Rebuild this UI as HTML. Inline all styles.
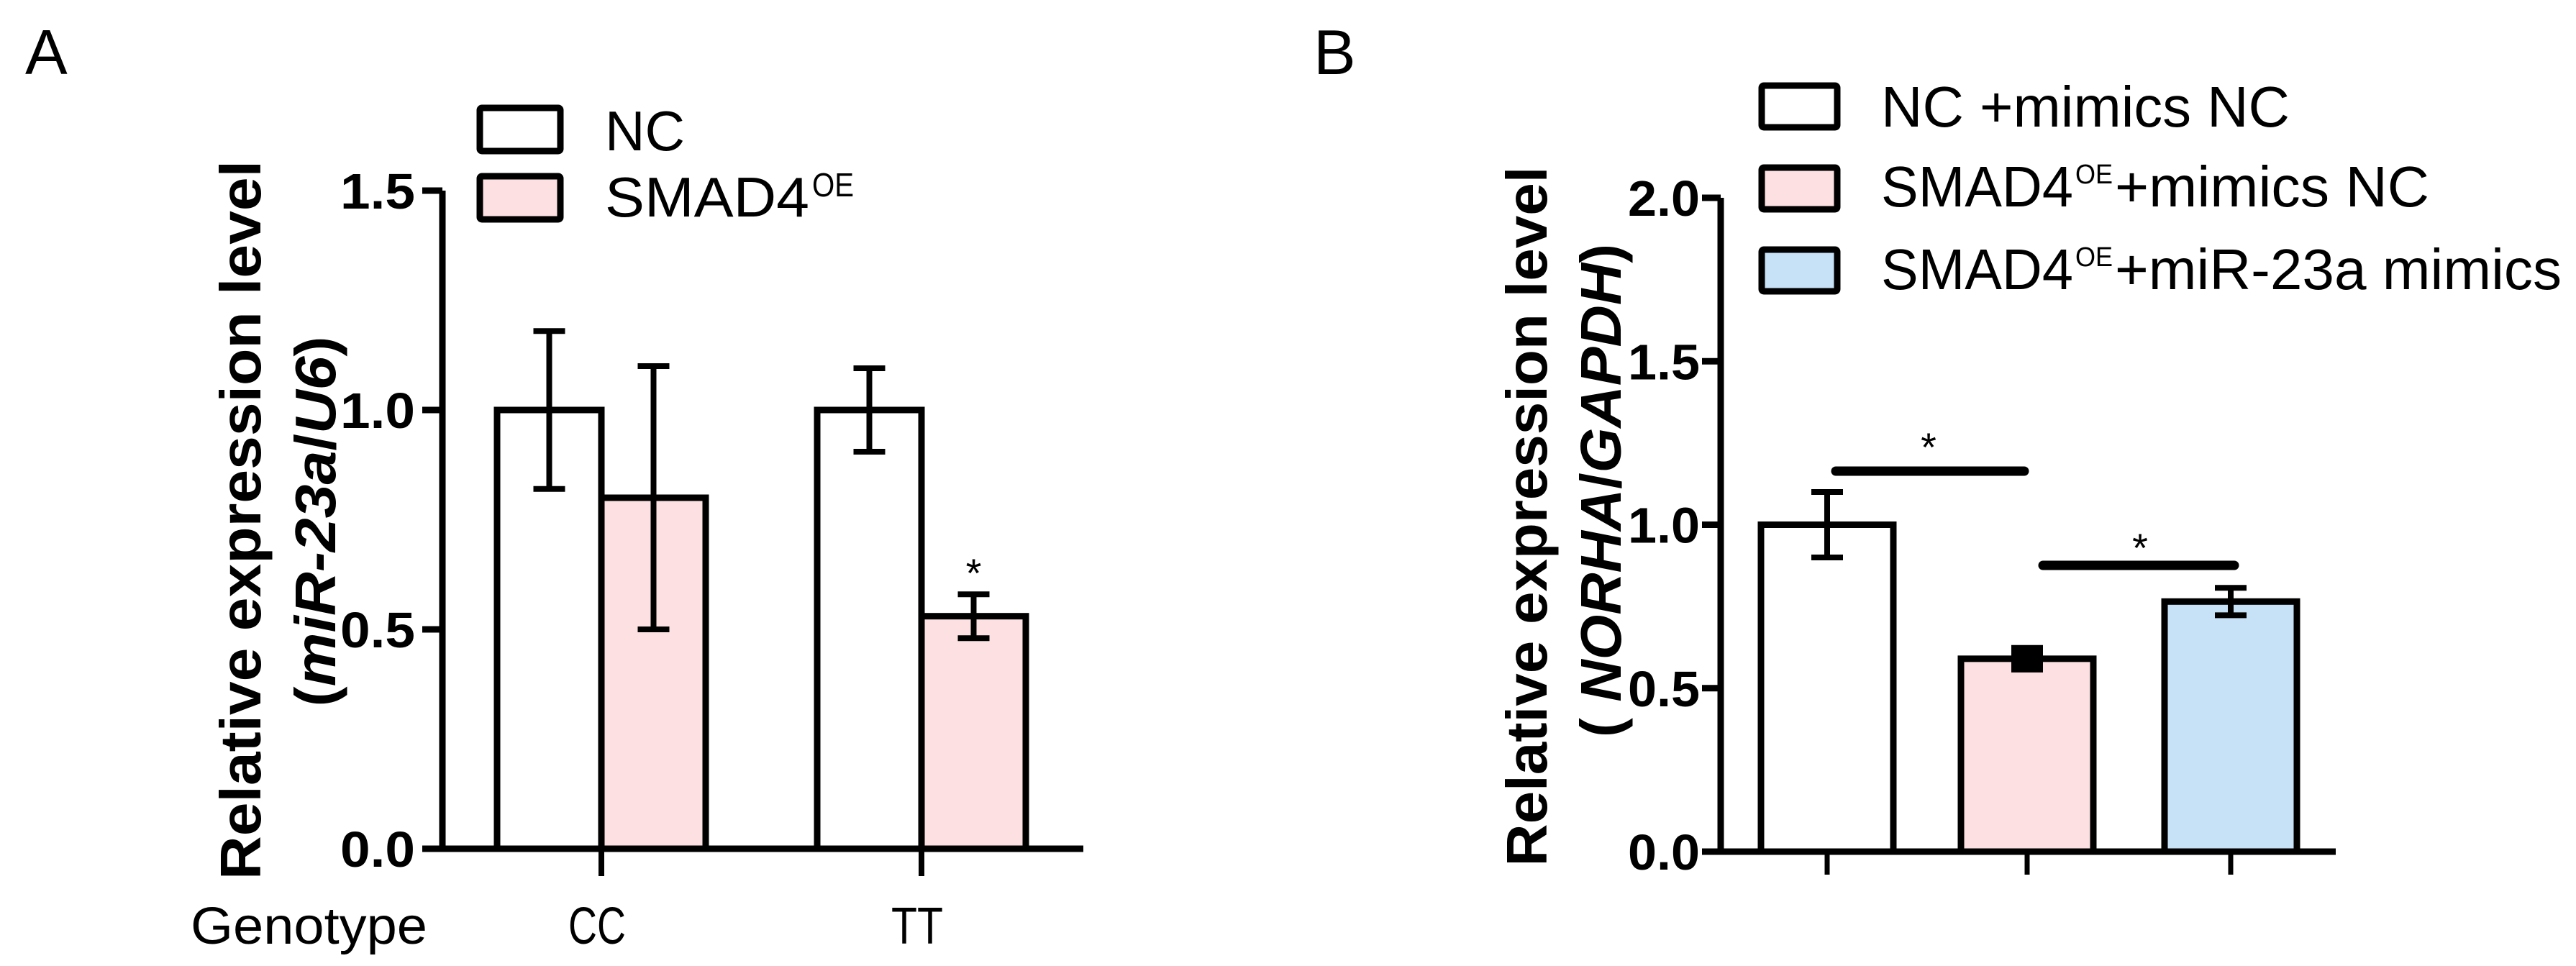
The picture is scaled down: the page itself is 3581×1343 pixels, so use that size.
<!DOCTYPE html>
<html><head><meta charset="utf-8"><style>
html,body{margin:0;padding:0;background:#fff;}
svg text{font-family:"Liberation Sans",sans-serif;}
</style></head><body>
<svg id="fig" width="3581" height="1338" viewBox="0 0 3581 1338" xmlns="http://www.w3.org/2000/svg">
<rect width="3581" height="1338" fill="#fff"/>
<text x="35" y="103" font-size="88">A</text>
<text x="1826" y="103" font-size="88">B</text>
<g id="A"></g>
<g id="B"></g>
</svg>
<script>
const NS="http://www.w3.org/2000/svg";
// Panel A data
const catsA=["CC","TT"];
const ncA=[1.0,1.0];
const ncErrA=[0.18,0.095];
const smadA=[0.80,0.53];
const smadErrA=[0.30,0.05];
const ticksA=[0,0.5,1.0,1.5];
const tickLabelsA=["0.0","0.5","1.0","1.5"];
// Panel B data
const groupsB=["NC +mimics NC","SMAD4OE+mimics NC","SMAD4OE+miR-23a mimics"];
const valB=[1.0,0.59,0.765];
const errB=[0.10,0.02,0.042];
const ticksB=[0,0.5,1.0,1.5,2.0];
const tickLabelsB=["0.0","0.5","1.0","1.5","2.0"];

function el(p,tag,attrs,txt){const e=document.createElementNS(NS,tag);for(const k in attrs)e.setAttribute(k,attrs[k]);if(txt!==undefined)e.textContent=txt;p.appendChild(e);return e;}

// ---------- Panel A ----------
const gA=document.getElementById('A');
const yA=v=>1180-v*(1180-265)/1.5;
const axA=615;
const catX=[836,1281];
const bw=145;
let ax=el(gA,'line',{x1:axA,y1:yA(1.5),x2:axA,y2:1184,stroke:'#000','stroke-width':9});

ax=el(gA,'line',{x1:axA-4,y1:1180,x2:1506,y2:1180,stroke:'#000','stroke-width':9});

ticksA.forEach((t,i)=>{
  const tk=el(gA,'line',{x1:axA-28,y1:yA(t),x2:axA,y2:yA(t),stroke:'#000','stroke-width':9});
  
  const tl=el(gA,'text',{x:577,y:yA(t)+25,'font-size':70,'font-weight':'bold','text-anchor':'end',textLength:104,lengthAdjust:'spacingAndGlyphs'},tickLabelsA[i]);
  
});
catsA.forEach((c,i)=>{
  const cx=catX[i];
  const tk=el(gA,'line',{x1:cx,y1:1180,x2:cx,y2:1218,stroke:'#000','stroke-width':8});
  
  const lb=el(gA,'text',{x:cx-6,y:1312,'font-size':72,'text-anchor':'middle',textLength:c==="CC"?80:72,lengthAdjust:'spacingAndGlyphs'},c);
  
  [[ncA,ncErrA,'#ffffff',cx-bw],[smadA,smadErrA,'#fde0e1',cx]].forEach(([vals,errs,fill,x0],j)=>{
    const v=vals[i],e=errs[i];
    const r=el(gA,'rect',{x:x0,y:yA(v),width:bw,height:1180-yA(v),fill:fill,stroke:'#000','stroke-width':9});
    
    const mx=x0+bw/2;
    const eb=el(gA,'path',{d:`M${mx},${yA(v+e)}V${yA(v-e)}M${mx-22},${yA(v+e)}h44M${mx-22},${yA(v-e)}h44`,stroke:'#000','stroke-width':8,fill:'none'});
    
  });
});
let st=el(gA,'text',{x:catX[1]+bw/2,y:yA(smadA[1]+smadErrA[1])-10,'font-size':56,'text-anchor':'middle'},'*');

let gt=el(gA,'text',{x:265,y:1312,'font-size':72,textLength:329,lengthAdjust:'spacingAndGlyphs'},'Genotype');

let yt=el(gA,'text',{x:0,y:0,'font-size':80,'font-weight':'bold','text-anchor':'middle',transform:'translate(362,723) rotate(-90)',textLength:1000,lengthAdjust:'spacingAndGlyphs'},'Relative expression level');

yt=el(gA,'text',{x:0,y:0,'font-size':80,'font-weight':'bold','text-anchor':'middle',transform:'translate(466,725) rotate(-90)',textLength:515,lengthAdjust:'spacingAndGlyphs'});
yt.innerHTML='(<tspan font-style="italic">miR-23a</tspan>/<tspan font-style="italic">U6</tspan>)';

// legend A
[['NC','#ffffff',150,209],['SMAD4','#fde0e1',245,301]].forEach(([t,f,y,bl],i)=>{
  const b=el(gA,'rect',{x:667,y:y,width:112,height:60,fill:f,stroke:'#000','stroke-width':9,rx:3});
  
  const tx=el(gA,'text',{x:841,y:bl,'font-size':78});
  if(i===0){tx.textContent='NC';tx.setAttribute('textLength','111');tx.setAttribute('lengthAdjust','spacingAndGlyphs');}
  else tx.innerHTML='<tspan textLength="284" lengthAdjust="spacingAndGlyphs">SMAD4</tspan><tspan font-size="46" dx="4" dy="-28" textLength="58" lengthAdjust="spacingAndGlyphs">OE</tspan>';
  
});

// ---------- Panel B ----------
const gB=document.getElementById('B');
const yB=v=>1184-v*(1184-275)/2.0;
const axB=2392;
const xB=[2540,2818,3101];
const bwB=184;
const fills=['#ffffff','#fde0e1','#c7e1f7'];
ax=el(gB,'line',{x1:axB,y1:yB(2),x2:axB,y2:1188,stroke:'#000','stroke-width':9});

ax=el(gB,'line',{x1:axB-4,y1:1184,x2:3247,y2:1184,stroke:'#000','stroke-width':9});

ticksB.forEach((t,i)=>{
  const tk=el(gB,'line',{x1:axB-26,y1:yB(t),x2:axB,y2:yB(t),stroke:'#000','stroke-width':9});
  
  const tl=el(gB,'text',{x:2363,y:yB(t)+25,'font-size':70,'font-weight':'bold','text-anchor':'end',textLength:100,lengthAdjust:'spacingAndGlyphs'},tickLabelsB[i]);
  
});
groupsB.forEach((g,i)=>{
  const cx=xB[i],v=valB[i],e=errB[i];
  const tk=el(gB,'line',{x1:cx,y1:1184,x2:cx,y2:1216,stroke:'#000','stroke-width':7});
  
  const r=el(gB,'rect',{x:cx-bwB/2,y:yB(v),width:bwB,height:1184-yB(v),fill:fills[i],stroke:'#000','stroke-width':9});
  
  const eb=el(gB,'path',{d:`M${cx},${yB(v+e)}V${yB(v-e)}M${cx-22},${yB(v+e)}h44M${cx-22},${yB(v-e)}h44`,stroke:'#000','stroke-width':e<0.03?20:8,fill:'none'});
  
});
[[2552,2814,655,2681,619],[2840,3106,786,2975,759]].forEach(([x1,x2,y,sx,sy])=>{
  const l=el(gB,'line',{x1:x1,y1:y,x2:x2,y2:y,stroke:'#000','stroke-width':13,'stroke-linecap':'round'});
  
  const s=el(gB,'text',{x:sx,y:sy+22,'font-size':56,'text-anchor':'middle'},'*');
  
});
yt=el(gB,'text',{x:0,y:0,'font-size':80,'font-weight':'bold','text-anchor':'middle',transform:'translate(2150,718) rotate(-90)',textLength:973,lengthAdjust:'spacingAndGlyphs'},'Relative expression level');

yt=el(gB,'text',{x:0,y:0,'font-size':80,'font-weight':'bold','text-anchor':'middle',transform:'translate(2253,682) rotate(-90)',textLength:686,lengthAdjust:'spacingAndGlyphs'});
yt.innerHTML='( <tspan font-style="italic">NORHA</tspan>/<tspan font-style="italic">GAPDH</tspan>)';

// legend B
const legY=[119,233,347];
const legBase=[176,287,402];
const legSuffix=['+mimics NC','+mimics NC','+miR-23a mimics'];
const legLen=[568,437,621];
legY.forEach((y,i)=>{
  const b=el(gB,'rect',{x:2449,y:y,width:105,height:58,fill:fills[i],stroke:'#000','stroke-width':9,rx:3});
  
  const tx=el(gB,'text',{x:2615,y:legBase[i],'font-size':80});
  if(i===0) tx.innerHTML='<tspan textLength="568" lengthAdjust="spacingAndGlyphs">NC +mimics NC</tspan>';
  else tx.innerHTML='<tspan textLength="267" lengthAdjust="spacingAndGlyphs">SMAD4</tspan><tspan font-size="38" dx="3" dy="-32" textLength="52" lengthAdjust="spacingAndGlyphs">OE</tspan><tspan dx="3" dy="32" textLength="'+legLen[i]+'" lengthAdjust="spacingAndGlyphs">'+legSuffix[i]+'</tspan>';
  
});
</script>
</body></html>
